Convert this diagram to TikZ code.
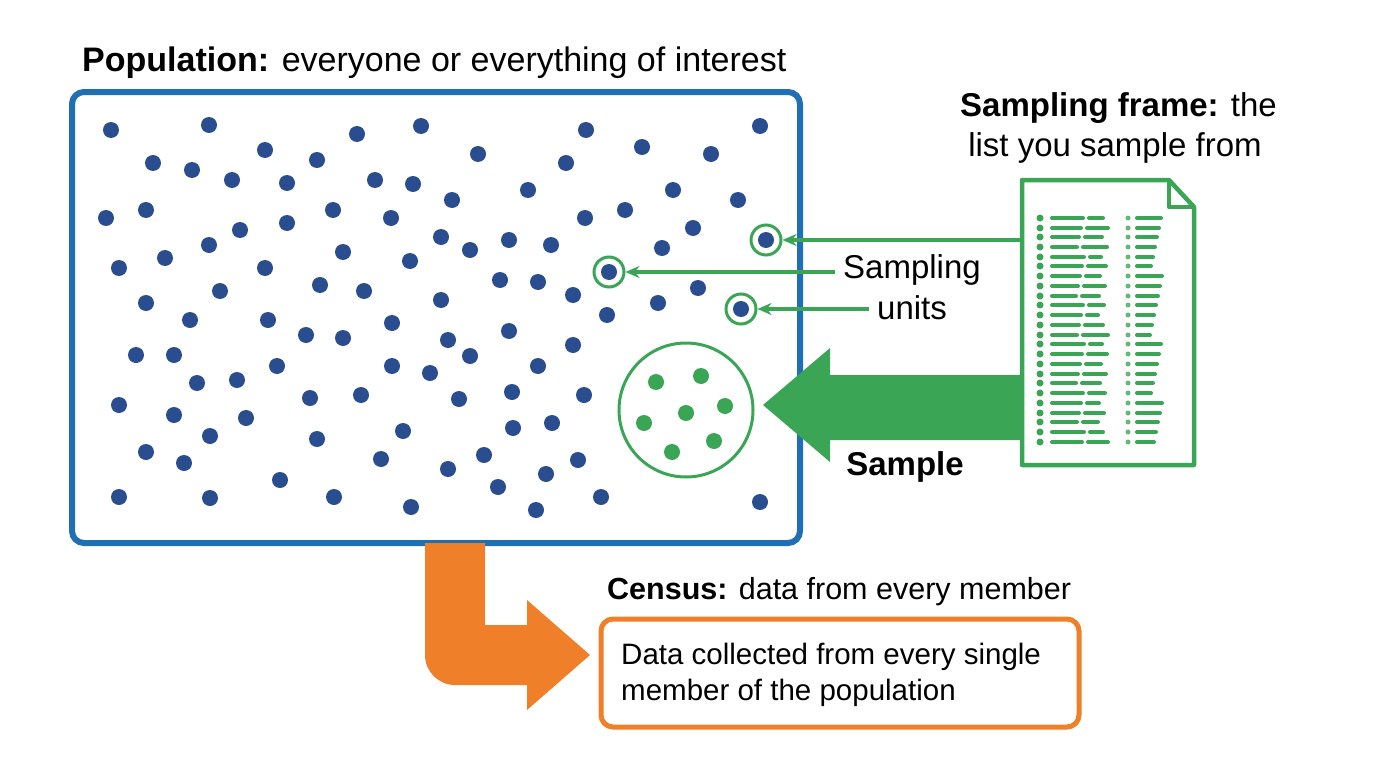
\documentclass[tikz,border=0pt]{standalone}
\usepackage{fontspec}
\setmainfont{Liberation Sans}
\usetikzlibrary{arrows.meta}
\definecolor{pblue}{HTML}{1F6FB5}
\definecolor{dblue}{HTML}{2A4D8F}
\definecolor{sgreen}{HTML}{3AA655}
\definecolor{orng}{HTML}{F07F2A}
\begin{document}
\begin{tikzpicture}[x=1pt,y=-1pt,
  dot/.style={circle,fill=dblue,inner sep=0,minimum size=16},
  gdot/.style={circle,fill=sgreen,inner sep=0,minimum size=16},
  ring/.style={circle,draw=sgreen,line width=3,fill=white,minimum size=30,inner sep=0},
  lab/.style={font=\fontsize{33}{38}\selectfont,inner sep=0},
  thin/.style={-{Stealth[length=14,width=12]},draw=sgreen,line width=3.5}]
\useasboundingbox (0,0) rectangle (1376,768);
% population box
\node[draw=pblue,line width=6,rounded corners=12,minimum width=728,minimum height=451,inner sep=0] (pop) at (436,317.5) {};
\node[lab,anchor=west,font=\fontsize{34}{38}\selectfont] (poplab) at (82,63) {\textbf{Population:} everyone or everything of interest};
\foreach \x/\y [count=\i] in {111/130,209/125,357/134,421/126,586/130,760/126,
153/163,192/170,265/150,317/160,478/154,566/163,642/147,711/154,
232/180,287/183,375/180,413/184,528/190,673/190,738/200,
106/218,146/210,240/230,287/223,333/210,391/218,452/200,585/218,625/210,
119/268,165/258,209/245,265/268,343/252,410/261,441/237,470/250,509/240,551/245,662/248,693/228,
146/303,220/291,320/285,364/291,441/300,500/280,538/282,573/295,658/303,698/288,
190/320,268/320,306/335,343/338,392/323,448/340,509/331,607/315,
136/355,174/355,277/366,392/366,430/373,470/356,538/366,573/345,
197/383,237/380,361/395,459/399,512/392,584/395,
119/405,174/415,246/418,310/398,
146/452,210/436,317/439,403/431,513/428,552/423,
184/463,381/459,448/469,484/455,546/474,578/460,
119/497,210/498,280/480,334/497,411/507,498/487,536/510,601/497,760/502}
  \node[dot] (d\i) at (\x,\y) {};
% circled units
\node[ring] (u1) at (766,240) {}; \node[dot] at (u1) {};
\node[ring] (u2) at (609,272) {}; \node[dot] at (u2) {};
\node[ring] (u3) at (741,309) {}; \node[dot] at (u3) {};
% sample circle
\node[circle,draw=sgreen,line width=3,minimum size=134,inner sep=0] (samp) at (686,410) {};
\foreach \x/\y in {656/382,701/376,644/423,686/413,725/406,672/452,714/441}
  \node[gdot] at (\x,\y) {};
% document
\draw[sgreen,line width=4.5,fill=white,line join=round] (1022,180) -- (1169,180) -- (1194,207) -- (1194,465) -- (1022,465) -- cycle;
\draw[sgreen,line width=4.5,line join=round] (1169,180) -- (1169,207) -- (1194,207);
\foreach \y [count=\k] in {218,228,237,247,257,266,276,286,296,305,315,325,335,344,354,364,374,383,393,403,413,422,432,442}{
  \pgfmathsetmacro{\a}{1076+mod(\k*7,9)}
  \pgfmathsetmacro{\b}{1098+mod(\k*5,11)}
  \pgfmathsetmacro{\c}{1150+mod(\k*11,13)}
  \fill[sgreen] (1040,\y) circle (3.5);
  \draw[sgreen,line width=4,line cap=round] (1052,\y) -- (\a,\y) (\a+6,\y) -- (\b,\y) (1137,\y) -- (\c,\y);
  \fill[sgreen!80] (1128,\y) circle (2.5);
}
\node[lab,anchor=east] (sf1) at (1277,108) {\textbf{Sampling frame:} the};
\node[lab] (sf2) at (1115,148) {list you sample from};
% big green arrow
\fill[sgreen] (1022,375) -- (830,375) -- (830,348) -- (763,405) -- (830,462) -- (830,440) -- (1022,440) -- cycle;
\node[lab,font=\fontsize{33}{38}\selectfont\bfseries] (slab) at (905,467) {Sample};
% sampling units arrows
\coordinate (f1) at (1022,240);
\draw[thin] (f1) -- (u1);
\node[lab] (su1) at (912,270) {Sampling};
\node[lab] (su2) at (912,308) {units};
\draw[thin] (su1.west) ++(-8,2) -- (u2);
\draw[thin] (su2.west) ++(-8,1) -- (u3);
% orange arrow
\fill[orng] (425,543) -- (485,543) -- (485,625) -- (527,625) -- (527,600) -- (590,655) -- (527,710) -- (527,685) -- (455,685) arc (90:180:30) -- cycle;
% census
\node[lab,anchor=west,font=\fontsize{30.5}{36}\selectfont] (cl) at (607,592) {\textbf{Census:} data from every member};
\node[draw=orng,line width=5,rounded corners=12,minimum width=478,minimum height=108,inner sep=0] (cbox) at (840,673) {};
\node[lab,anchor=west,align=left,font=\fontsize{29.5}{36}\selectfont] (ct) at (621,675) {Data collected from every single\\member of the population};
\end{tikzpicture}
\end{document}
